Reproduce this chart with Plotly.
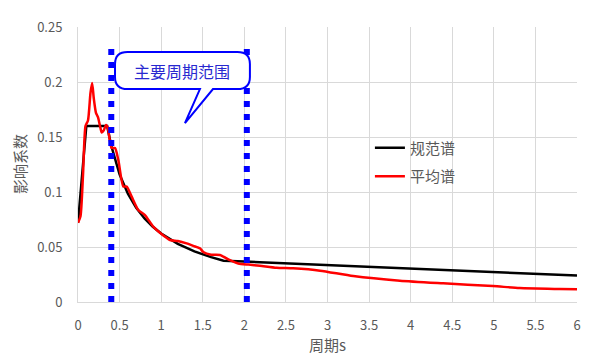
import plotly.graph_objects as go

# ---- data ----
code_T = [0, 0.1, 0.35, 0.4, 0.5, 0.6, 0.7, 0.8, 0.9, 1.0, 1.2, 1.4, 1.6, 1.75, 2.0, 3.0, 4.0, 5.0, 6.0]
code_A = [0.072, 0.16, 0.16, 0.142, 0.116, 0.0985, 0.0857, 0.076, 0.0684, 0.0622, 0.0528, 0.046, 0.0408,
          0.0376, 0.0368, 0.0336, 0.0304, 0.0272, 0.024]

avg_T = [0, 0.03, 0.06, 0.09, 0.12, 0.15, 0.17, 0.19, 0.216, 0.24, 0.265, 0.285, 0.31, 0.337, 0.36, 0.376,
         0.404, 0.445, 0.485, 0.545, 0.585, 0.645, 0.725, 0.805, 0.905, 1.0, 1.106, 1.2, 1.306, 1.386,
         1.466, 1.506, 1.6, 1.707, 1.827, 1.927, 2.05, 2.187, 2.387, 2.587, 2.91, 3.31, 3.87, 4.39,
         4.99, 5.31, 5.79, 6.0]
avg_A = [0.072, 0.078, 0.115, 0.16, 0.165, 0.19, 0.199, 0.185, 0.172, 0.168, 0.16, 0.154, 0.156, 0.161,
         0.158, 0.15, 0.14, 0.14, 0.129, 0.105, 0.105, 0.0958, 0.0836, 0.079, 0.0685, 0.062, 0.0564,
         0.0555, 0.0533, 0.051, 0.0488, 0.0455, 0.043, 0.0427, 0.038, 0.035, 0.034, 0.033, 0.0312,
         0.0306, 0.0285, 0.0236, 0.0194, 0.017, 0.0145, 0.0127, 0.0118, 0.0115]

period_range = [0.4, 2.03]          # main period range markers
marker_top = 0.233
x_ticks = [0, 0.5, 1, 1.5, 2, 2.5, 3, 3.5, 4, 4.5, 5, 5.5, 6]
x_labels = ["0", "0.5", "1", "1.5", "2", "2.5", "3", "3.5", "4", "4.5", "5", "5.5", "6"]
y_ticks = [0, 0.05, 0.1, 0.15, 0.2, 0.25]
y_labels = ["0", "0.05", "0.1", "0.15", "0.2", "0.25"]
series_names = ["规范谱", "平均谱"]
callout_text = "主要周期范围"
x_title = "周期s"
y_title = "影响系数"

FONT = "Noto Sans CJK SC"
GRAY = "#595959"

fig = go.Figure()
fig.add_trace(go.Scatter(x=code_T, y=code_A, mode="lines", name=series_names[0],
                         line=dict(color="#000000", width=2.5), legendgroup="a"))
fig.add_trace(go.Scatter(x=avg_T, y=avg_A, mode="lines", name=series_names[1],
                         line=dict(color="#ff0000", width=2.5, shape="spline", smoothing=0.6),
                         legendgroup="b"))

shapes = []
for xv in period_range:
    shapes.append(dict(type="line", xref="x", yref="y", x0=xv, x1=xv, y0=0, y1=marker_top,
                       line=dict(color="#0000ff", width=6, dash="6px,7px"), layer="above"))

# callout box (data coords)
bx0, bx1, by0, by1 = 0.445, 2.067, 0.1936, 0.2273
rx, ry = 0.15, 0.011
tail_a, tail_b = 1.466, 1.623
tip_x, tip_y = 1.286, 0.1627
path = (f"M {bx0+rx},{by1} L {bx1-rx},{by1} Q {bx1},{by1} {bx1},{by1-ry} "
        f"L {bx1},{by0+ry} Q {bx1},{by0} {bx1-rx},{by0} "
        f"L {tail_b},{by0} L {tip_x},{tip_y} L {tail_a},{by0} "
        f"L {bx0+rx},{by0} Q {bx0},{by0} {bx0},{by0+ry} "
        f"L {bx0},{by1-ry} Q {bx0},{by1} {bx0+rx},{by1} Z")
shapes.append(dict(type="path", xref="x", yref="y", path=path, fillcolor="white",
                   line=dict(color="#0000ff", width=2), layer="above"))

fig.update_layout(
    width=600, height=364,
    margin=dict(l=70, r=31, t=19, b=70),
    paper_bgcolor="white", plot_bgcolor="white",
    font=dict(family=FONT, color=GRAY, size=13),
    shapes=shapes,
    showlegend=True,
    legend=dict(x=0.585, y=0.62, xanchor="left", yanchor="top", bgcolor="rgba(0,0,0,0)",
                font=dict(size=15, color=GRAY), tracegroupgap=6, traceorder="grouped"),
    annotations=[
        dict(x=(bx0 + bx1) / 2, y=(by0 + by1) / 2, xref="x", yref="y",
             text=callout_text, showarrow=False,
             font=dict(family=FONT, size=16, color="#2828d0")),
        dict(x=-0.117, y=0.5, xref="paper", yref="paper", text=y_title, textangle=-90,
             showarrow=False, xanchor="center", yanchor="middle",
             font=dict(family=FONT, size=15, color=GRAY)),
    ],
)
fig.update_xaxes(range=[0, 6], tickvals=x_ticks, ticktext=x_labels, showgrid=True,
                 gridcolor="#d9d9d9", gridwidth=1, showline=True, linecolor="#d9d9d9",
                 zeroline=False, ticklabelstandoff=11, tickfont=dict(size=13, color=GRAY),
                 title=dict(text=x_title, font=dict(size=15, color=GRAY), standoff=5))
fig.update_yaxes(range=[0, 0.25], tickvals=y_ticks, ticktext=y_labels, showgrid=True,
                 gridcolor="#d9d9d9", gridwidth=1, showline=True, linecolor="#d9d9d9",
                 zeroline=False, ticklabelstandoff=12, tickfont=dict(size=13, color=GRAY),
                 automargin=False)

fig.write_html("out.html")
